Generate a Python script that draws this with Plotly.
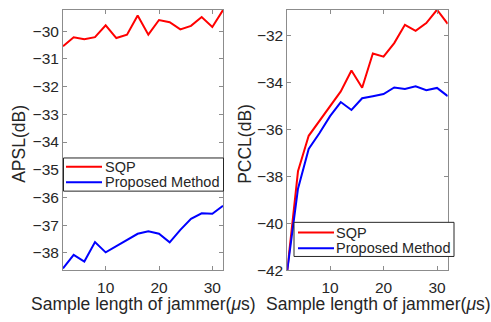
import plotly.graph_objects as go

x_vals = [2, 4, 6, 8, 10, 12, 14, 16, 18, 20, 22, 24, 26, 28, 30, 32]

apsl_sqp = [-30.55, -30.22, -30.29, -30.22, -29.79, -30.25, -30.13, -29.44,
            -30.13, -29.60, -29.68, -29.94, -29.81, -29.49, -29.85, -29.24]
apsl_proposed = [-38.56, -38.07, -38.31, -37.61, -37.98, -37.75, -37.54, -37.31,
                 -37.22, -37.31, -37.62, -37.17, -36.77, -36.57, -36.59, -36.30]

pccl_sqp = [-42.0, -37.79, -36.28, -35.65, -35.02, -34.39, -33.50, -34.23,
            -32.77, -32.91, -32.33, -31.55, -31.81, -31.48, -30.91, -31.51]
pccl_proposed = [-42.0, -38.53, -36.84, -36.17, -35.44, -34.84, -35.18, -34.68,
                 -34.59, -34.50, -34.22, -34.28, -34.17, -34.34, -34.24, -34.59]

series_names = ["SQP", "Proposed Method"]
x_title = "Sample length of jammer(<i>μ</i>s)"
y_titles = ["APSL(dB)", "PCCL(dB)"]
x_ticks = [10, 20, 30]
apsl_ticks = [-30, -31, -32, -33, -34, -35, -36, -37, -38]
pccl_ticks = [-32, -34, -36, -38, -40, -42]

W, H = 491, 322
RED, BLUE = "#ff0000", "#0000ff"
COLORS = [RED, BLUE]
FONT = "Liberation Sans, Arial, sans-serif"
TXT = "#262626"
AX = "#8c8c8c"

fig = go.Figure()
fig.add_trace(go.Scatter(x=x_vals, y=apsl_sqp, mode="lines", name=series_names[0],
                         line=dict(color=RED, width=2), xaxis="x", yaxis="y"))
fig.add_trace(go.Scatter(x=x_vals, y=apsl_proposed, mode="lines", name=series_names[1],
                         line=dict(color=BLUE, width=2), xaxis="x", yaxis="y"))
fig.add_trace(go.Scatter(x=x_vals, y=pccl_sqp, mode="lines", name=series_names[0],
                         line=dict(color=RED, width=2), xaxis="x2", yaxis="y2"))
fig.add_trace(go.Scatter(x=x_vals, y=pccl_proposed, mode="lines", name=series_names[1],
                         line=dict(color=BLUE, width=2), xaxis="x2", yaxis="y2"))

ydom = [1 - 277 / H, 1 - 10 / H]
axis_common = dict(showline=True, linecolor=AX, linewidth=1, mirror="ticks",
                   ticks="inside", ticklen=4, tickcolor=AX, showgrid=False,
                   zeroline=False, tickfont=dict(family=FONT, size=15.5, color=TXT))
title_font = dict(family=FONT, size=17.5, color=TXT)

fig.update_layout(
    width=W, height=H,
    margin=dict(l=0, r=0, t=0, b=0),
    plot_bgcolor="white", paper_bgcolor="white",
    showlegend=False,
    xaxis=dict(domain=[63 / W, 223 / W], range=[2, 32], tickvals=x_ticks, anchor="y",
               ticklabelstandoff=3, **axis_common),
    yaxis=dict(domain=ydom, range=[-38.62, -29.23], tickvals=apsl_ticks, anchor="x",
               **axis_common),
    xaxis2=dict(domain=[287.3 / W, 447.7 / W], range=[2, 32], tickvals=x_ticks, anchor="y2",
                ticklabelstandoff=3, **axis_common),
    yaxis2=dict(domain=ydom, range=[-42, -30.91], tickvals=pccl_ticks, anchor="x2",
                **axis_common),
)

# Axis titles placed as in the reference (right x-title is shifted to fit the figure)
for cx in (143.4, 378):
    fig.add_annotation(xref="paper", yref="paper", x=cx / W, y=1 - 311.7 / H,
                       text=x_title, showarrow=False, xanchor="center", yanchor="middle",
                       font=title_font)
for cx, t in zip((19, 245), y_titles):
    fig.add_annotation(xref="paper", yref="paper", x=cx / W, y=1 - 147.5 / H,
                       text=t, showarrow=False, textangle=-90,
                       xanchor="center", yanchor="middle", font=title_font)

# Legends (drawn in pixel-derived paper coords, one per panel)
def add_legend(box, line_x, rows_y, text_x):
    x0, x1, y0, y1 = box
    fig.add_shape(type="rect", xref="paper", yref="paper",
                  x0=x0 / W, x1=x1 / W, y0=1 - y1 / H, y1=1 - y0 / H,
                  fillcolor="white", line=dict(color="#262626", width=1), layer="above")
    for name, col, ry in zip(series_names, COLORS, rows_y):
        fig.add_shape(type="line", xref="paper", yref="paper",
                      x0=line_x[0] / W, x1=line_x[1] / W, y0=1 - ry / H, y1=1 - ry / H,
                      line=dict(color=col, width=2), layer="above")
        fig.add_annotation(xref="paper", yref="paper", x=text_x / W, y=1 - ry / H,
                           text=name, showarrow=False, xanchor="left", yanchor="middle",
                           font=dict(family=FONT, size=14.5, color=TXT))

add_legend((63.5, 223.5, 162, 196), (66, 102), (171, 187), 102.5)
add_legend((294, 454, 228, 263), (298, 334), (238.5, 254.5), 333.5)

fig.write_html("out.html")
